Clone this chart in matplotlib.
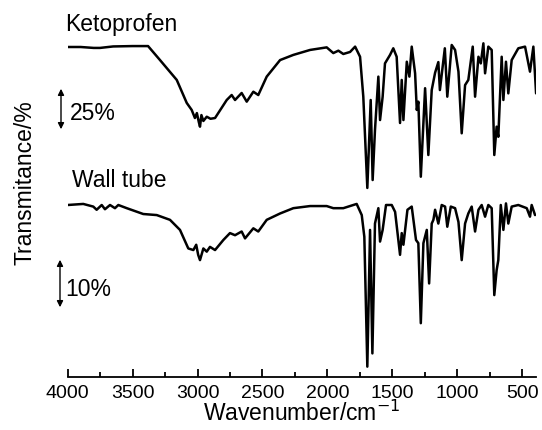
import matplotlib.pyplot as plt
import numpy as np

plt.rcParams['font.family'] = ['Liberation Sans', 'DejaVu Sans']

# Ketoprofen reference spectrum (wavenumber in cm-1, transmittance in %)
keto_wn = [4000, 3900, 3800, 3751, 3650, 3500, 3381, 3289, 3160, 3083, 3045,
           3020, 3005, 2990, 2981, 2970, 2955, 2929, 2900, 2865, 2775, 2737,
           2711, 2660, 2621, 2570, 2532, 2467, 2364, 2262, 2133, 2005, 1954,
           1915, 1877, 1825, 1786, 1748, 1723, 1692, 1666, 1651, 1633, 1607,
           1594, 1574, 1556, 1517, 1492, 1466, 1440, 1427, 1414, 1388, 1368,
           1350, 1324, 1311, 1299, 1280, 1247, 1222, 1196, 1170, 1145, 1133,
           1095, 1076, 1042, 1016, 990, 965, 939, 914, 880, 862, 836, 818,
           798, 785, 760, 734, 714, 696, 683, 657, 644, 624, 606, 580, 529,
           477, 439, 413, 392]
keto_t = [90.0, 90.0, 89.5, 89.5, 90.3, 90.5, 90.5, 82.9, 72.1, 59.6, 55.8,
          51.4, 54.1, 49.2, 46.7, 53.0, 49.8, 52.1, 51.0, 51.4, 61.2, 63.9,
          61.2, 65.0, 60.3, 65.7, 63.9, 73.9, 82.9, 85.7, 88.4, 89.8, 86.7,
          88.0, 86.2, 87.3, 90.2, 84.7, 63.0, 13.4, 61.2, 17.7, 44.9, 73.9,
          50.3, 63.0, 81.1, 85.7, 89.3, 84.7, 48.7, 72.1, 50.3, 82.0, 73.9,
          90.2, 75.7, 55.8, 60.3, 19.5, 67.6, 31.3, 66.6, 76.0, 81.8, 66.6,
          89.3, 63.0, 91.1, 88.4, 76.6, 43.1, 69.3, 72.1, 90.2, 63.0, 84.7,
          81.1, 92.0, 75.7, 90.2, 88.4, 31.3, 46.7, 41.2, 84.7, 61.2, 82.0,
          64.8, 82.9, 89.3, 90.2, 76.6, 90.2, 64.8]

# Wall tube spectrum
wall_wn = [4000, 3880, 3803, 3777, 3738, 3713, 3674, 3636, 3610, 3545, 3418,
           3314, 3212, 3135, 3071, 3032, 3010, 2995, 2981, 2955, 2929, 2904,
           2865, 2801, 2750, 2711, 2660, 2634, 2570, 2532, 2467, 2364, 2262,
           2133, 2005, 1954, 1877, 1800, 1774, 1735, 1715, 1692, 1671, 1653,
           1633, 1607, 1594, 1574, 1548, 1504, 1478, 1440, 1427, 1414, 1383,
           1350, 1317, 1299, 1280, 1260, 1234, 1216, 1196, 1183, 1170, 1145,
           1119, 1093, 1076, 1049, 1016, 990, 965, 939, 914, 888, 862, 836,
           811, 785, 760, 734, 714, 696, 683, 664, 644, 624, 606, 580, 529,
           464, 439, 426, 400]
wall_t = [90.0, 90.2, 89.7, 89.1, 90.0, 89.2, 90.0, 89.4, 90.0, 89.4, 88.3,
          88.1, 87.2, 85.3, 81.8, 81.5, 82.5, 80.6, 79.6, 81.8, 81.2, 82.1,
          81.5, 83.4, 84.7, 84.3, 85.0, 83.7, 85.6, 85.0, 87.2, 88.4, 89.4,
          89.8, 89.8, 89.4, 89.4, 90.0, 90.2, 88.1, 84.0, 59.5, 85.3, 62.0,
          86.5, 89.4, 83.1, 85.3, 90.0, 90.0, 88.7, 80.6, 84.7, 82.5, 89.1,
          89.7, 83.4, 82.8, 67.7, 82.8, 85.3, 75.2, 86.5, 87.2, 89.1, 86.5,
          90.0, 89.7, 85.9, 89.7, 89.4, 86.8, 79.6, 86.5, 88.4, 89.7, 85.0,
          89.1, 90.0, 87.8, 90.0, 89.4, 73.0, 77.7, 79.6, 90.0, 85.3, 90.3,
          86.5, 89.7, 90.0, 89.4, 87.8, 90.0, 88.1]

series_names = ["Ketoprofen", "Wall tube"]
scale_labels = ["25%", "10%"]

W, H = 542, 430
fig = plt.figure(figsize=(W / 100, H / 100), dpi=100)

# axes placed in pixel units; y runs downward in "pixel" units so the
# two spectra can be stacked with their own vertical scale
x0, x1, ybot = 67.7, 535.7, 376.7
ax = fig.add_axes([x0 / W, (H - ybot) / H, (x1 - x0) / W, ybot / H])
ax.set_xlim(4000, 395)
ax.set_ylim(ybot, 0)

# stacking: baseline position and pixels per % transmittance
offsets = [(47, 1.84), (205, 5.3)]
for (wn, t), (base, k) in zip([(keto_wn, keto_t), (wall_wn, wall_t)], offsets):
    y = base + (90 - np.asarray(t)) * k
    ax.plot(wn, y, color='black', lw=1.8, solid_joinstyle='round',
            solid_capstyle='round')

for s in ['left', 'right', 'top']:
    ax.spines[s].set_visible(False)
ax.spines['bottom'].set_linewidth(1.3)
ax.set_yticks([])
ax.set_xticks(np.arange(4000, 400, -500))
ax.set_xticks(np.arange(3750, 400, -500), minor=True)
ax.tick_params(axis='x', which='major', direction='in', length=6, width=1.3,
               labelsize=14, pad=6)
ax.tick_params(axis='x', which='minor', direction='in', length=3.5, width=1.3)
ax.set_xlabel("Wavenumber/cm$^{-1}$", fontsize=16.5, labelpad=-1)


def fx(px):
    return px / W


def fy(py):
    return 1 - py / H


fig.text(fx(25), fy(183), "Transmitance/%", rotation=90, fontsize=16.5,
         ha='center', va='center')
fig.text(fx(65), fy(25), series_names[0], fontsize=16.5, va='center')
fig.text(fx(72), fy(180), series_names[1], fontsize=16.5, va='center')
fig.text(fx(70), fy(113), scale_labels[0], fontsize=16.5, va='center')
fig.text(fx(65), fy(290), scale_labels[1], fontsize=16.5, va='center')

# scale bars
for xa, ya, yb in [(61, 86, 132), (60, 257, 310)]:
    fig.add_artist(plt.matplotlib.patches.FancyArrowPatch(
        (fx(xa), fy(ya)), (fx(xa), fy(yb)), transform=fig.transFigure,
        arrowstyle='<|-|>', mutation_scale=9, lw=1.0, color='black'))

fig.savefig("out.png", dpi=100)
